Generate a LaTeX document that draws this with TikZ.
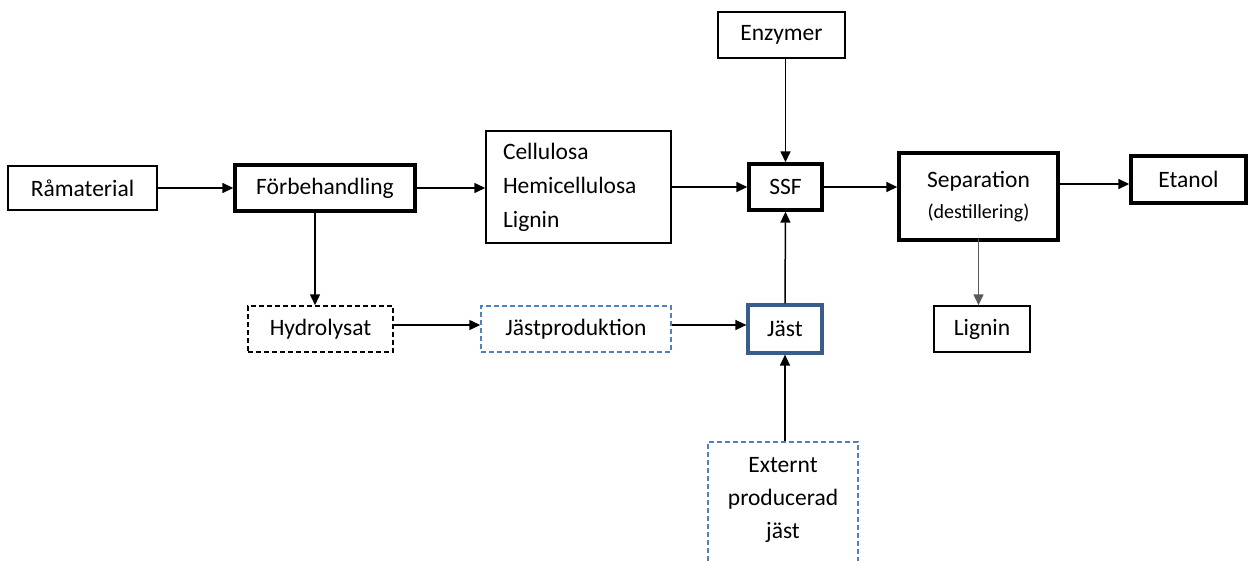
\documentclass[tikz,border=0pt]{standalone}
\usepackage{fontspec}
\setmainfont{Carlito}
\usetikzlibrary{arrows.meta}
\definecolor{offblue}{RGB}{79,129,189}
\definecolor{darkblue}{RGB}{56,93,138}
\tikzset{
  box/.style={draw=black, line width=1.5pt, rectangle, inner sep=0pt, align=center,
    font=\fontsize{23.5}{33}\selectfont},
  thickbox/.style={box, line width=3.4pt},
  dashbox/.style={box, dash pattern=on 5pt off 3pt},
  bluedash/.style={box, draw=offblue, dash pattern=on 5pt off 3pt},
  arr/.style={line width=1.5pt, -{Triangle[length=11pt,width=10pt]}},
}
\begin{document}
\begin{tikzpicture}[x=1pt,y=-1pt]
\useasboundingbox (0,0) rectangle (1248,560);
\node[box, minimum width=149pt, minimum height=44pt] (ram) at (82.5,188) {Råmaterial};
\node[thickbox, minimum width=180pt, minimum height=46pt] (forb) at (325,188) {Förbehandling};
\node[box, minimum width=185pt, minimum height=112pt, text width=151pt, align=left,
  font=\fontsize{23.5}{34}\selectfont] (cell) at (578.5,187) {Cellulosa\\Hemicellulosa\\Lignin};
\node[thickbox, minimum width=73pt, minimum height=46pt] (ssf) at (785.5,187) {SSF};
\node[box, minimum width=127pt, minimum height=46pt] (enz) at (781.5,35) {Enzymer};
\node[thickbox, minimum width=159pt, minimum height=87pt] (sep) at (978.5,196.5) {Separation\\[-2pt]{\fontsize{20}{26}\selectfont(destillering)}};
\node[thickbox, minimum width=115pt, minimum height=47pt] (etan) at (1188.5,179.5) {Etanol};
\node[box, minimum width=96pt, minimum height=46pt] (lign) at (982,329) {Lignin};
\node[dashbox, minimum width=145pt, minimum height=46pt] (hydr) at (320.5,329) {Hydrolysat};
\node[bluedash, minimum width=190pt, minimum height=46pt] (jprod) at (576,329) {Jästproduktion};
\node[box, draw=darkblue, line width=3.2pt, minimum width=74pt, minimum height=48pt] (jast) at (785,329) {Jäst};
\node[bluedash, anchor=north, minimum width=150pt, minimum height=170pt] (ext) at (783,441) {};
\node[align=center, inner sep=0pt, font=\fontsize{23.5}{33}\selectfont] (extlbl) at (783,500) {Externt\\producerad\\jäst};

\draw[arr] (ram) -- (forb);
\draw[arr] (forb.east) -- (forb.east -| cell.west);
\draw[arr] (cell.east) -- (ssf.west);
\draw[arr] (enz.south -| ssf.north) -- (ssf.north);
\draw[arr] (ssf.east) -- (ssf.east -| sep.west);
\draw[arr] (sep.east |- 0,184) -- (etan.west |- 0,184);
\draw[arr, draw=gray!70!black] (sep.south) ++(0,3pt) -- (lign.north -| sep.south);
\draw[arr] (forb.south -| 315,0) -- (hydr.north -| 315,0);
\draw[arr] (hydr.east |- 0,325) -- (jprod.west |- 0,325);
\draw[arr] (jprod.east |- 0,325) -- (jast.west |- 0,325);
\draw[arr] (jast.north) -- (ssf.south);
\draw[arr] (ext.north -| jast.south) -- (jast.south);
\end{tikzpicture}
\end{document}
